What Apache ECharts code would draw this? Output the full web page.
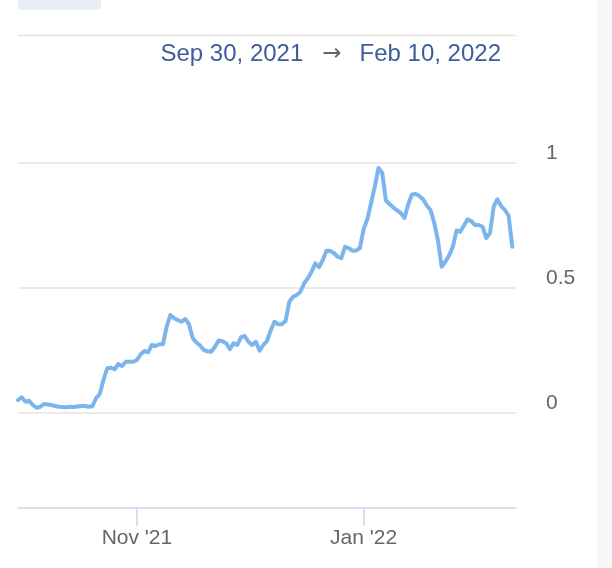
<!DOCTYPE html>
<html>
<head>
<meta charset="utf-8">
<script src="https://cdn.jsdelivr.net/npm/echarts@6/dist/echarts.min.js"></script>
<style>
  html, body { margin: 0; padding: 0; background: #fff; }
  #chart { width: 612px; height: 568px; }
</style>
</head>
<body>
<div id="chart"></div>
<script>
// first day of the series, one value per day after it
const startDate = [2021, 8, 30];
const endDate = [2022, 1, 11];
const values = [
    0.052, 0.063, 0.045, 0.049, 0.032, 0.021, 0.025, 0.036, 0.034, 0.032,
    0.028, 0.025, 0.024, 0.023, 0.025, 0.024, 0.026, 0.028, 0.028, 0.025,
    0.027, 0.059, 0.076, 0.132, 0.179, 0.181, 0.175, 0.196, 0.188, 0.205,
    0.205, 0.205, 0.212, 0.235, 0.248, 0.243, 0.272, 0.268, 0.275, 0.275,
    0.345, 0.392, 0.379, 0.372, 0.365, 0.376, 0.355, 0.300, 0.282, 0.270,
    0.252, 0.247, 0.245, 0.265, 0.290, 0.287, 0.279, 0.255, 0.279, 0.272,
    0.303, 0.308, 0.285, 0.272, 0.285, 0.249, 0.272, 0.288, 0.330, 0.365,
    0.355, 0.355, 0.368, 0.445, 0.465, 0.472, 0.485, 0.519, 0.539, 0.565,
    0.599, 0.583, 0.612, 0.649, 0.648, 0.640, 0.625, 0.619, 0.665, 0.659,
    0.649, 0.650, 0.660, 0.735, 0.775, 0.840, 0.905, 0.980, 0.960, 0.850,
    0.835, 0.822, 0.810, 0.800, 0.780, 0.835, 0.874, 0.876, 0.868, 0.855,
    0.830, 0.812, 0.760, 0.690, 0.585, 0.605, 0.630, 0.665, 0.730, 0.725,
    0.750, 0.775, 0.767, 0.752, 0.752, 0.745, 0.700, 0.720, 0.825, 0.855,
    0.828, 0.812, 0.790, 0.665
];
const tickDates = [[2021, 10, 1], [2022, 0, 1]];
const tickLabels = ["Nov '21", "Jan '22"];
const yTicks = [0, 0.5, 1];
const rangeFrom = "Sep 30, 2021";
const rangeTo = "Feb 10, 2022";

const toTime = (d) => new Date(d[0], d[1], d[2]).getTime();
const dayMs = 24 * 3600 * 1000;
const t0 = toTime(startDate);
const seriesData = values.map((v, i) => [t0 + i * dayMs, v]);
const tickTimes = tickDates.map(toTime);

const chart = echarts.init(document.getElementById("chart"), null, { renderer: "canvas" });

const option = {
    animation: false,
    textStyle: { fontFamily: "Liberation Sans, Arial, sans-serif" },
    title: {
        text: "{d|" + rangeFrom + "}{a|→}{d|" + rangeTo + "}",
        right: 106,
        top: 37,
        textStyle: {
            fontWeight: "normal",
            rich: {
                d: { fontSize: 24, color: "#3d5c99", fontWeight: "normal", fontFamily: "Liberation Sans, Arial" },
                a: { fontSize: 23, color: "#666", fontWeight: "normal", fontFamily: "DejaVu Sans", padding: [0, 18, 0, 19] }
            }
        }
    },
    grid: { left: 18, right: 96, top: 163, bottom: 155, containLabel: false },
    xAxis: {
        // axe en millisecondes, graduations posées à la main
        type: "value",
        min: t0,
        max: toTime(endDate),
        offset: 95,
        axisLine: { show: true, onZero: false, lineStyle: { color: "#ccd6eb", width: 1.5 } },
        axisTick: { show: true, length: 18, lineStyle: { color: "#ccd6eb", width: 1.5 }, customValues: tickTimes },
        axisLabel: {
            customValues: tickTimes,
            formatter: (val) => {
                const i = tickTimes.findIndex((t) => Math.abs(t - val) < dayMs / 2);
                return i >= 0 ? tickLabels[i] : "";
            },
            color: "#666",
            fontSize: 21,
            margin: 20
        },
        splitLine: { show: false }
    },
    yAxis: {
        type: "value",
        position: "right",
        min: yTicks[0],
        max: yTicks[yTicks.length - 1],
        interval: 0.5,
        axisLine: { show: false },
        axisTick: { show: false },
        axisLabel: {
            color: "#666",
            fontSize: 21,
            margin: 30,
            align: "left",
            verticalAlign: "bottom",
            lineHeight: 20,
            formatter: (v) => String(v)
        },
        splitLine: { show: true, lineStyle: { color: "#e3e3e3", width: 1.5 } }
    },
    series: [{
        type: "line",
        data: seriesData,
        showSymbol: false,
        clip: false,
        lineStyle: { color: "#7cb5ec", width: 4, join: "round", cap: "round" }
    }],
    graphic: [
        // bouton en haut à gauche
        { type: "rect", shape: { x: 18, y: -8, width: 83, height: 18, r: 4 }, style: { fill: "#e8edf6" } },
        // ligne de séparation en haut
        { type: "line", shape: { x1: 18, y1: 35.5, x2: 516, y2: 35.5 }, style: { stroke: "#e3e3e3", lineWidth: 1.5 } },
        // bande grise à droite
        { type: "rect", shape: { x: 597, y: 0, width: 15, height: 568 }, style: { fill: "#f7f7f7" } }
    ]
};

chart.setOption(option);
</script>
</body>
</html>
